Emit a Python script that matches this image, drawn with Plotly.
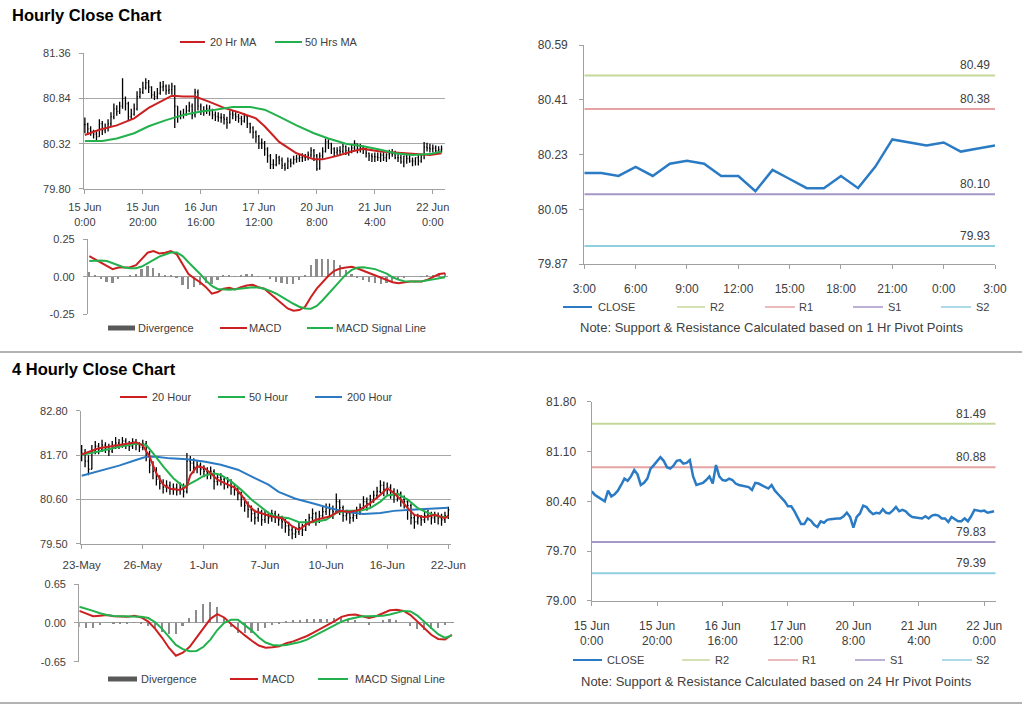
import plotly.graph_objects as go

# ---------------- Hourly data (15 Jun 0:00 -> 22 Jun 3:00) ----------------
HOUR_TICKS = [0, 20, 40, 60, 80, 100, 120]
HOUR_TICK_TEXT = ["15 Jun<br>0:00", "15 Jun<br>20:00", "16 Jun<br>16:00", "17 Jun<br>12:00",
                  "20 Jun<br>8:00", "21 Jun<br>4:00", "22 Jun<br>0:00"]

CLOSE_H = [80.54, 80.49, 80.46, 80.43, 80.40, 80.55, 80.47, 80.50, 80.55, 80.63,
           80.72, 80.69, 80.75, 80.84, 80.78, 80.63, 80.66, 80.72, 80.86, 80.91,
           80.96, 81.02, 80.97, 80.88, 80.86, 80.90, 80.97, 80.98, 80.93, 80.94,
           80.98, 80.75, 80.63, 80.65, 80.66, 80.70, 80.75, 80.65, 80.91, 80.75,
           80.70, 80.69, 80.72, 80.70, 80.65, 80.63, 80.62, 80.62, 80.60, 80.56,
           80.66, 80.65, 80.63, 80.61, 80.58, 80.63, 80.55, 80.50, 80.45, 80.40,
           80.33, 80.33, 80.26, 80.18, 80.08, 80.08, 80.16, 80.13, 80.07, 80.04,
           80.12, 80.10, 80.14, 80.15, 80.16, 80.16, 80.16, 80.19, 80.24, 80.18,
           80.03, 80.18, 80.23, 80.34, 80.32, 80.26, 80.22, 80.24, 80.23, 80.29,
           80.24, 80.23, 80.27, 80.32, 80.26, 80.28, 80.26, 80.21, 80.18,
           80.17, 80.17, 80.16, 80.19, 80.16, 80.20, 80.21, 80.20, 80.16, 80.16,
           80.11, 80.18, 80.15, 80.12, 80.12, 80.16, 80.12, 80.19, 80.28, 80.27,
           80.26, 80.27, 80.24, 80.25, 80.26]

HIGH_H = [80.62, 80.56, 80.52, 80.48, 80.47, 80.60, 80.58, 80.55, 80.60, 80.68,
          80.78, 80.76, 80.80, 81.07, 80.86, 80.80, 80.72, 80.78, 80.92, 80.96,
          81.03, 81.07, 81.05, 80.98, 80.92, 80.96, 81.03, 81.04, 81.00, 81.00,
          81.02, 80.99, 80.72, 80.70, 80.72, 80.76, 80.80, 80.78, 80.95, 80.94,
          80.78, 80.75, 80.77, 80.76, 80.72, 80.69, 80.68, 80.67, 80.66, 80.63,
          80.70, 80.70, 80.68, 80.66, 80.64, 80.67, 80.64, 80.56, 80.52, 80.47,
          80.42, 80.38, 80.35, 80.28, 80.20, 80.14, 80.20, 80.18, 80.16, 80.10,
          80.16, 80.15, 80.18, 80.19, 80.20, 80.21, 80.20, 80.23, 80.28, 80.26,
          80.20, 80.22, 80.28, 80.38, 80.37, 80.33, 80.28, 80.28, 80.29, 80.33,
          80.30, 80.28, 80.31, 80.36, 80.32, 80.32, 80.30, 80.27, 80.22, 80.21,
          80.22, 80.22, 80.22, 80.23, 80.21, 80.25, 80.26, 80.24, 80.21, 80.19,
          80.17, 80.21, 80.20, 80.16, 80.16, 80.19, 80.19, 80.34, 80.33, 80.32,
          80.31, 80.30, 80.29, 80.30]

LOW_H = [80.44, 80.42, 80.41, 80.38, 80.36, 80.42, 80.42, 80.44, 80.46, 80.52,
         80.60, 80.64, 80.66, 80.72, 80.70, 80.58, 80.60, 80.64, 80.70, 80.84,
         80.89, 80.94, 80.90, 80.84, 80.82, 80.83, 80.88, 80.92, 80.88, 80.89,
         80.88, 80.50, 80.56, 80.60, 80.61, 80.64, 80.68, 80.60, 80.62, 80.70,
         80.65, 80.64, 80.66, 80.64, 80.60, 80.58, 80.57, 80.56, 80.54, 80.49,
         80.55, 80.60, 80.58, 80.56, 80.53, 80.56, 80.50, 80.44, 80.38, 80.33,
         80.26, 80.26, 80.18, 80.10, 80.03, 80.03, 80.06, 80.08, 80.03, 80.01,
         80.03, 80.05, 80.08, 80.10, 80.11, 80.11, 80.12, 80.13, 80.16, 80.12,
         80.01, 80.02, 80.15, 80.22, 80.26, 80.20, 80.17, 80.19, 80.18, 80.21,
         80.19, 80.18, 80.21, 80.24, 80.21, 80.22, 80.20, 80.16, 80.12, 80.11,
         80.11, 80.12, 80.11, 80.12, 80.11, 80.14, 80.17, 80.14, 80.11, 80.09,
         80.05, 80.09, 80.10, 80.06, 80.07, 80.07, 80.10, 80.14, 80.23, 80.22,
         80.22, 80.20, 80.21, 80.22]

MA20_H_X = [0, 5, 11, 17, 22, 28, 30, 34, 38, 43, 48, 53, 59, 62, 67, 73, 79, 82, 87, 92,
            96, 102, 107, 113, 119, 123]
MA20_H = [80.42, 80.48, 80.53, 80.61, 80.73, 80.84, 80.87, 80.86, 80.86, 80.80, 80.73, 80.68,
          80.61, 80.52, 80.34, 80.21, 80.14, 80.14, 80.18, 80.23, 80.26, 80.23, 80.22, 80.20,
          80.19, 80.21]
MA50_H_X = [0, 6, 11, 17, 22, 28, 34, 40, 45, 51, 57, 62, 67, 73, 79, 84, 90, 96, 102, 107,
            113, 119, 123]
MA50_H = [80.35, 80.35, 80.38, 80.44, 80.52, 80.59, 80.65, 80.69, 80.71, 80.74, 80.74, 80.71,
          80.63, 80.53, 80.44, 80.38, 80.32, 80.29, 80.25, 80.21, 80.19, 80.20, 80.23]

MACD_H_X = list(range(0, 123, 2))
MACD_H = [0.137, 0.115, 0.092, 0.067, 0.050, 0.061, 0.061, 0.063, 0.076, 0.115,
          0.159, 0.170, 0.154, 0.159, 0.170, 0.148, 0.083, 0.017, -0.011, -0.037,
          -0.070, -0.113, -0.102, -0.080, -0.074, -0.085, -0.070, -0.059, -0.054, -0.070,
          -0.080, -0.113, -0.146, -0.178, -0.211, -0.226, -0.222, -0.200, -0.135, -0.080,
          -0.037, 0.006, 0.039, 0.054, 0.061, 0.065, 0.054, 0.039, 0.022, 0.006,
          -0.011, -0.022, -0.037, -0.043, -0.037, -0.033, -0.033, -0.033, -0.020, -0.004,
          0.017, 0.022]
SIGNAL_H = [0.104, 0.107, 0.108, 0.104, 0.090, 0.076, 0.061, 0.056, 0.056, 0.067,
            0.088, 0.110, 0.133, 0.147, 0.160, 0.160, 0.137, 0.096, 0.058, 0.018,
            -0.026, -0.062, -0.082, -0.087, -0.087, -0.083, -0.078, -0.074, -0.071, -0.072,
            -0.080, -0.095, -0.112, -0.135, -0.160, -0.180, -0.200, -0.212, -0.213, -0.195,
            -0.157, -0.113, -0.070, -0.026, 0.015, 0.045, 0.061, 0.062, 0.058, 0.050,
            0.035, 0.020, -0.004, -0.020, -0.030, -0.033, -0.033, -0.031, -0.026, -0.018,
            -0.010, -0.004]
MACD_H_TICKS = [-0.25, 0.0, 0.25]
MACD_H_TICK_TEXT = ["-0.25", "0.00", "0.25"]

# ---------------- Pivot levels ----------------
PIVOT_NAMES = ["R2", "R1", "S1", "S2"]
PIVOT_1H = [80.49, 80.38, 80.10, 79.93]
PIVOT_24H = [81.49, 80.88, 79.83, 79.39]
LAST_24H_TICK_TEXT = ["3:00", "6:00", "9:00", "12:00", "15:00", "18:00", "21:00", "0:00", "3:00"]

# ---------------- 4-hourly data (23 May -> 22 Jun) ----------------
BAR4_TICKS = [0, 18, 36, 54, 72, 90, 108]
BAR4_TICK_TEXT = ["23-May", "26-May", "1-Jun", "7-Jun", "10-Jun", "16-Jun", "22-Jun"]

CLOSE_4H = [81.75, 81.55, 81.35, 81.80, 81.92, 81.85, 81.95, 81.88, 81.80, 81.95,
            82.00, 81.95, 82.05, 81.98, 81.92, 82.02, 81.96, 81.90, 81.98, 81.75,
            81.45, 81.30, 81.10, 81.00, 80.90, 80.95, 80.85, 80.88, 80.82, 80.90,
            80.80, 81.55, 81.50, 81.40, 81.45, 81.35, 81.30, 81.25, 81.30, 81.05,
            81.15, 81.10, 81.00, 81.05, 80.90, 80.85, 80.75, 80.60, 80.45, 80.35,
            80.25, 80.15, 80.30, 80.10, 80.20, 80.15, 80.25, 80.18, 80.10, 80.05,
            79.95, 79.85, 79.75, 79.80, 79.90, 79.85, 80.00, 80.15, 80.25, 80.10,
            80.20, 80.30, 80.40, 80.35, 80.30, 80.55, 80.40, 80.20, 80.25, 80.15,
            80.20, 80.30, 80.40, 80.55, 80.50, 80.60, 80.70, 80.80, 80.95, 80.85,
            80.90, 80.80, 80.70, 80.75, 80.60, 80.55, 80.45, 80.15, 80.05, 80.15,
            80.10, 80.20, 80.25, 80.15, 80.20, 80.15, 80.10, 80.20, 80.35]
HIGH_4H = [81.95, 81.85, 81.70, 81.95, 82.05, 82.00, 82.08, 82.02, 81.98, 82.05,
           82.15, 82.10, 82.15, 82.12, 82.05, 82.12, 82.10, 82.02, 82.08, 82.05,
           81.80, 81.55, 81.40, 81.20, 81.10, 81.08, 81.05, 81.00, 81.00, 81.02,
           81.00, 81.75, 81.68, 81.62, 81.58, 81.52, 81.45, 81.40, 81.42, 81.35,
           81.25, 81.25, 81.15, 81.15, 81.10, 81.00, 80.92, 80.80, 80.65, 80.55,
           80.45, 80.35, 80.40, 80.35, 80.32, 80.30, 80.35, 80.32, 80.25, 80.20,
           80.12, 80.05, 79.92, 79.92, 80.02, 80.00, 80.12, 80.25, 80.38, 80.30,
           80.32, 80.42, 80.50, 80.50, 80.45, 80.75, 80.60, 80.45, 80.35, 80.30,
           80.32, 80.42, 80.50, 80.68, 80.65, 80.72, 80.82, 80.92, 81.08, 81.05,
           81.02, 80.98, 80.88, 80.85, 80.80, 80.70, 80.62, 80.50, 80.22, 80.25,
           80.22, 80.30, 80.35, 80.30, 80.30, 80.28, 80.25, 80.30, 80.42]
LOW_4H = [81.55, 81.40, 81.20, 81.35, 81.72, 81.72, 81.78, 81.75, 81.68, 81.75,
          81.85, 81.85, 81.88, 81.85, 81.80, 81.85, 81.82, 81.78, 81.82, 81.55,
          81.25, 81.10, 80.95, 80.85, 80.75, 80.78, 80.72, 80.72, 80.70, 80.72,
          80.65, 80.75, 81.30, 81.25, 81.25, 81.20, 81.15, 81.10, 81.10, 80.85,
          80.95, 80.95, 80.85, 80.88, 80.72, 80.70, 80.58, 80.42, 80.30, 80.15,
          80.05, 79.98, 80.05, 79.95, 80.02, 80.00, 80.05, 80.02, 79.95, 79.88,
          79.78, 79.70, 79.62, 79.65, 79.72, 79.70, 79.82, 79.95, 80.05, 79.95,
          80.02, 80.12, 80.22, 80.18, 80.12, 80.30, 80.22, 80.05, 80.08, 80.00,
          80.05, 80.12, 80.22, 80.35, 80.32, 80.42, 80.52, 80.62, 80.75, 80.68,
          80.72, 80.62, 80.52, 80.55, 80.42, 80.38, 80.10, 79.98, 79.88, 79.98,
          79.95, 80.02, 80.08, 79.98, 80.02, 79.98, 79.95, 80.02, 80.12]

MA20_4H_X = [0, 5, 11, 16, 18, 20, 22, 24, 26, 29, 31, 32, 34, 36, 38, 40, 43, 45, 47, 49,
             51, 54, 56, 59, 62, 64, 66, 69, 73, 76, 79, 82, 85, 88, 90, 92, 94, 96, 98, 101,
             104, 107, 108]
MA20_4H = [81.72, 81.87, 81.95, 82.02, 81.94, 81.66, 81.25, 80.97, 80.87, 80.84, 80.92, 81.20,
           81.42, 81.39, 81.25, 81.09, 80.97, 80.90, 80.72, 80.47, 80.31, 80.24, 80.18, 80.14,
           79.94, 79.85, 79.98, 80.10, 80.18, 80.32, 80.29, 80.35, 80.51, 80.72, 80.88, 80.76,
           80.60, 80.39, 80.22, 80.16, 80.22, 80.14, 80.20]
MA50_4H_X = [0, 5, 11, 16, 19, 21, 24, 27, 30, 31, 34, 36, 39, 41, 44, 47, 50, 53, 55, 57,
             61, 64, 68, 72, 75, 78, 82, 85, 88, 90, 93, 96, 99, 102, 105, 108]
MA50_4H = [81.71, 81.79, 81.91, 81.98, 81.95, 81.75, 81.42, 81.13, 80.92, 80.95, 81.09, 81.19,
           81.25, 81.21, 81.05, 80.84, 80.60, 80.39, 80.27, 80.18, 80.14, 80.04, 80.04, 80.10,
           80.27, 80.32, 80.32, 80.39, 80.55, 80.70, 80.74, 80.60, 80.39, 80.27, 80.18, 80.16]
MA200_4H_X = [0, 5, 11, 16, 19, 22, 26, 31, 36, 41, 46, 51, 55, 58, 63, 68, 73, 78, 83, 88,
              92, 97, 102, 108]
MA200_4H = [81.19, 81.31, 81.44, 81.58, 81.66, 81.66, 81.62, 81.60, 81.54, 81.46, 81.34, 81.13,
            80.97, 80.79, 80.62, 80.51, 80.39, 80.29, 80.24, 80.27, 80.32, 80.35, 80.37, 80.40]

MACD_4H_X = list(range(0, 109, 2))
MACD_4H = [0.20, 0.15, 0.11, 0.12, 0.13, 0.11, 0.10, 0.10, 0.12, 0.09,
           0.02, -0.10, -0.25, -0.42, -0.55, -0.50, -0.40, -0.25, -0.08, 0.067,
           0.145, 0.09, -0.02, -0.12, -0.21, -0.30, -0.38, -0.415, -0.41, -0.39,
           -0.34, -0.31, -0.27, -0.22, -0.16, -0.10, -0.04, 0.03, 0.10, 0.13,
           0.14, 0.11, 0.08, 0.11, 0.16, 0.21, 0.22, 0.20, 0.13, 0.02,
           -0.10, -0.20, -0.27, -0.28, -0.20]
SIGNAL_4H = [0.27, 0.24, 0.20, 0.16, 0.13, 0.115, 0.11, 0.11, 0.11, 0.10,
             0.08, 0.01, -0.10, -0.23, -0.37, -0.44, -0.475, -0.47, -0.40, -0.28,
             -0.12, 0.00, 0.05, 0.05, -0.04, -0.13, -0.24, -0.33, -0.37, -0.38,
             -0.37, -0.35, -0.32, -0.28, -0.22, -0.17, -0.11, -0.05, 0.02, 0.06,
             0.09, 0.11, 0.11, 0.11, 0.12, 0.14, 0.17, 0.20, 0.19, 0.12,
             0.02, -0.09, -0.19, -0.25, -0.21]
MACD_4H_TICKS = [-0.65, 0.0, 0.65]
MACD_4H_TICK_TEXT = ["-0.65", "0.00", "0.65"]

# ---------------- styling ----------------
FONT = "Liberation Sans, Arial, Helvetica, sans-serif"
TXT = "#404040"
AXC = "#a0a0a0"
GRID = "#a8a8a8"
RED = "#cc2020"
GREEN = "#22b14c"
BLUE = "#2b7bc4"
BAR_GRAY = "#8c8c8c"
PIVOT_COLORS = ["#c4d79b", "#e6a3a3", "#a796c8", "#8fcfe0"]

W, H = 1024, 706


def fx(x):
    return x / W


def fy(y):
    return 1 - y / H


fig = go.Figure()


def ohlc(close, high, low, xa, ya):
    opn = [close[0]] + close[:-1]
    hi = [max(h, o, c) for h, o, c in zip(high, opn, close)]
    lo = [min(l, o, c) for l, o, c in zip(low, opn, close)]
    fig.add_trace(go.Ohlc(x=list(range(len(close))), open=opn, high=hi, low=lo, close=close,
                          increasing=dict(line=dict(color="black", width=1.3)),
                          decreasing=dict(line=dict(color="black", width=1.3)),
                          tickwidth=0.3, xaxis=xa, yaxis=ya, hoverinfo="skip"))


def line(x, y, color, width, xa, ya):
    fig.add_trace(go.Scatter(x=x, y=y, mode="lines", line=dict(color=color, width=width),
                             xaxis=xa, yaxis=ya, hoverinfo="skip"))


def macd_panel(xs, macd, sig, xa, ya, bw):
    div = [m - s for m, s in zip(macd, sig)]
    fig.add_trace(go.Bar(x=xs, y=div, width=bw, marker=dict(color=BAR_GRAY, line=dict(width=0)),
                         xaxis=xa, yaxis=ya, hoverinfo="skip"))
    line(xs, macd, RED, 2, xa, ya)
    line(xs, sig, GREEN, 2, xa, ya)


def pivots(levels, x0, x1, xa, ya, xshift):
    for v, c in zip(levels, PIVOT_COLORS):
        line([x0, x1], [v, v], c, 2, xa, ya)
        fig.add_annotation(x=x1, y=v, xref=xa, yref=ya, text=f"{v:.2f}", showarrow=False,
                           xanchor="right", yanchor="bottom", xshift=xshift, yshift=1,
                           font=dict(family=FONT, size=12, color=TXT))


# Panel A: hourly bars + MAs
ohlc(CLOSE_H, HIGH_H, LOW_H, "x", "y")
line(MA20_H_X, MA20_H, RED, 2, "x", "y")
line(MA50_H_X, MA50_H, GREEN, 2, "x", "y")
# Panel B: hourly MACD
macd_panel(MACD_H_X, MACD_H, SIGNAL_H, "x2", "y2", 0.6)
# Panel C: last 24 hours with 1 Hr pivots
last = CLOSE_H[-25:]
pivots(PIVOT_1H, 0, len(last) - 1, "x3", "y3", -3)
line(list(range(len(last))), last, BLUE, 2.5, "x3", "y3")
# Panel D: 4-hourly bars + MAs
ohlc(CLOSE_4H, HIGH_4H, LOW_4H, "x4", "y4")
line(MA200_4H_X, MA200_4H, BLUE, 2, "x4", "y4")
line(MA50_4H_X, MA50_4H, GREEN, 2, "x4", "y4")
line(MA20_4H_X, MA20_4H, RED, 2, "x4", "y4")
# Panel E: 4-hourly MACD
macd_panel(MACD_4H_X, MACD_4H, SIGNAL_4H, "x5", "y5", 0.6)
# Panel F: hourly close with 24 Hr pivots
pivots(PIVOT_24H, 0, 123.5, "x6", "y6", -8)
line(list(range(len(CLOSE_H))), CLOSE_H, BLUE, 2.5, "x6", "y6")


def yax(top, bottom, rng, vals, size, grid=False, zero=False, standoff=6, text=None):
    span = rng[1] - rng[0]
    d = dict(domain=[fy(bottom), fy(top)], range=[rng[0] - span * 1e-4, rng[1] + span * 1e-4],
             tickvals=vals, tickformat=".2f", showgrid=grid, gridcolor=GRID, gridwidth=1.3,
             showline=True, linecolor=AXC, linewidth=1.3, ticks="outside", ticklen=4,
             tickcolor=AXC, tickfont=dict(family=FONT, size=size, color=TXT),
             zeroline=zero, zerolinecolor=AXC, zerolinewidth=1.3, fixedrange=True,
             ticklabelstandoff=standoff, automargin=False)
    if text is not None:
        d["ticktext"] = text
    return d


def xax(left, right, rng, vals, text, anchor, size, labels=True, show_line=True, standoff=4):
    return dict(domain=[fx(left), fx(right)], range=rng, tickvals=vals, ticktext=text,
                showticklabels=labels, showgrid=False, zeroline=False, showline=show_line,
                linecolor=AXC, linewidth=1.3, ticks="outside" if show_line else "", ticklen=4,
                tickcolor=AXC, tickfont=dict(family=FONT, size=size, color=TXT),
                anchor=anchor, fixedrange=True, rangeslider=dict(visible=False),
                ticklabelstandoff=standoff, automargin=False)


fig.update_layout(
    width=W, height=H, margin=dict(l=0, r=0, t=0, b=0, pad=0, autoexpand=False),
    paper_bgcolor="white", plot_bgcolor="white", showlegend=False, bargap=0,
    xaxis=xax(84, 445, [-0.3, 124.2], HOUR_TICKS, HOUR_TICK_TEXT, "y", 11, standoff=4),
    yaxis=yax(53, 189, [79.80, 81.36], [79.80, 80.32, 80.84, 81.36], 11, grid=True),
    xaxis2=xax(88, 448, [-0.45, 123], [], [], "y2", 11, labels=False, show_line=False),
    yaxis2=yax(239, 314.3, [-0.25, 0.25], MACD_H_TICKS, 11, grid=True, zero=True,
               text=MACD_H_TICK_TEXT),
    xaxis3=xax(584.3, 995, [0, 24], list(range(0, 25, 3)), LAST_24H_TICK_TEXT, "y3", 12, standoff=9),
    yaxis3=yax(45, 264.3, [79.87, 80.59], [79.87, 80.05, 80.23, 80.41, 80.59], 12, standoff=9),
    xaxis4=xax(81, 450.7, [-0.2, 108.7], BAR4_TICKS, BAR4_TICK_TEXT, "y4", 11.5, standoff=6),
    yaxis4=yax(410.7, 544, [79.50, 82.80], [79.50, 80.60, 81.70, 82.80], 11, grid=True),
    xaxis5=xax(79.3, 454, [0, 108.6], [], [], "y5", 11, labels=False, show_line=False),
    yaxis5=yax(584, 661.7, [-0.65, 0.65], MACD_4H_TICKS, 11, grid=True, zero=True,
               text=MACD_4H_TICK_TEXT),
    xaxis6=xax(591.7, 995.7, [0, 123.5], HOUR_TICKS, HOUR_TICK_TEXT, "y6", 12, standoff=9),
    yaxis6=yax(401.7, 601, [79.00, 81.80], [79.00, 79.70, 80.40, 81.10, 81.80], 12, standoff=8),
)
for ax in ["yaxis", "yaxis2", "yaxis3", "yaxis4", "yaxis5", "yaxis6"]:
    n = ax.replace("yaxis", "")
    fig.layout[ax].anchor = "x" + n

# ---------------- titles, legends, notes, separators ----------------


def text(x, y, s, size=11, anchor="left", bold=False, color=TXT):
    fig.add_annotation(xref="paper", yref="paper", x=fx(x), y=fy(y), text=f"<b>{s}</b>" if bold else s,
                       showarrow=False, xanchor=anchor, yanchor="middle",
                       font=dict(family=FONT, size=size, color=color))


def leg_line(x0, x1, y, color, width=2):
    fig.add_shape(type="line", xref="paper", yref="paper", x0=fx(x0), x1=fx(x1), y0=fy(y), y1=fy(y),
                  line=dict(color=color, width=width))


def leg_box(x0, x1, y, color):
    fig.add_shape(type="rect", xref="paper", yref="paper", x0=fx(x0), x1=fx(x1), y0=fy(y + 2.5),
                  y1=fy(y - 2.5), fillcolor=color, line=dict(width=0))


text(10, 15, "Hourly Close Chart", 16.5, bold=True, color="black")
text(10, 369, "4 Hourly Close Chart", 16.5, bold=True, color="black")

# Panel A legend
leg_line(180, 205, 42, RED); text(208, 42, "20 Hr MA")
leg_line(275, 302, 42, GREEN); text(303, 42, "50 Hrs MA")
# Panel B legend
leg_box(108, 135, 328, "#595959"); text(136, 328, "Divergence")
leg_line(220, 247, 328, RED); text(247, 328, "MACD")
leg_line(307, 333, 328, GREEN); text(334, 328, "MACD Signal Line")
# Panel D legend
leg_line(120, 147, 397, RED); text(150, 397, "20 Hour")
leg_line(218, 245, 397, GREEN); text(247, 397, "50 Hour")
leg_line(315, 342, 397, BLUE); text(345, 397, "200 Hour")
# Panel E legend
leg_box(108, 137, 679, "#595959"); text(139, 679, "Divergence")
leg_line(230, 258, 679, RED); text(260, 679, "MACD")
leg_line(318, 348, 679, GREEN); text(353, 679, "MACD Signal Line")

# Right panels legends
for (yl, xs) in [(307, [(563, 592, 596), (677, 705, 708), (765, 795, 797), (853, 883, 886), (941, 971, 974)]),
                 (660, [(573, 602, 605), (682, 710, 713), (768, 798, 800), (855, 885, 888), (942, 972, 974)])]:
    names = ["CLOSE"] + PIVOT_NAMES
    colors = [BLUE] + PIVOT_COLORS
    for (a, b, t), nm, col in zip(xs, names, colors):
        leg_line(a, b, yl, col, 2 if nm == "CLOSE" else 1.5)
        text(t, yl, nm)

text(771, 327, "Note: Support &amp; Resistance Calculated based on 1 Hr Pivot Points", 13, anchor="center")
text(776, 681, "Note: Support &amp; Resistance Calculated based on 24 Hr Pivot Points", 13, anchor="center")

for ysep in [352, 703]:
    fig.add_shape(type="line", xref="paper", yref="paper", x0=0, x1=fx(1022), y0=fy(ysep), y1=fy(ysep),
                  line=dict(color="#9a9a9a", width=1.5))

fig.write_html("out.html", include_plotlyjs=True, config={"displayModeBar": False})
